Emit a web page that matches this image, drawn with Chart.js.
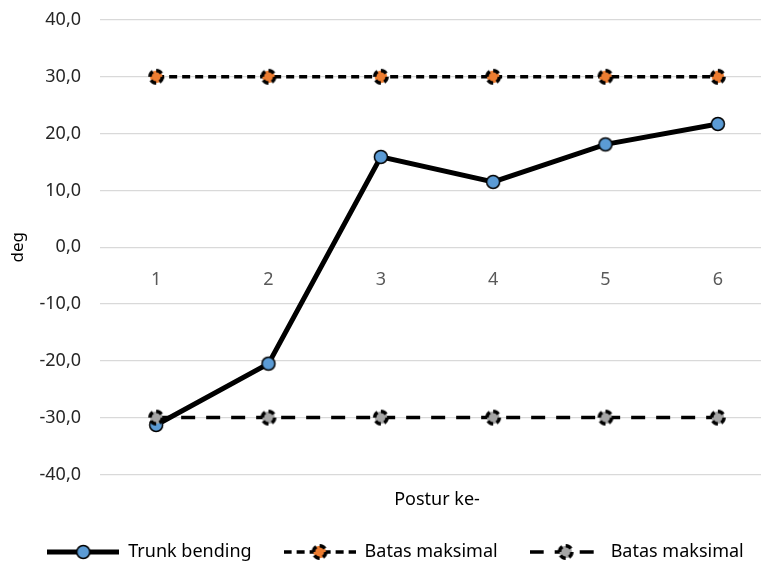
<!DOCTYPE html>
<html lang="id">
<head>
    <meta charset="UTF-8">
    <title>Trunk bending</title>
    <script src="https://cdn.jsdelivr.net/npm/chart.js"></script>
    <style>
        html, body {
            margin: 0;
            padding: 0;
            overflow: hidden;
            background: #fff;
        }
        #wrap {
            width: 783px;
            height: 571px;
        }
    </style>
</head>
<body>
    <div id="wrap"><canvas id="chart"></canvas></div>

    <script>
        // data
        const categories = ['1', '2', '3', '4', '5', '6'];
        const trunkBending = [-31.3, -20.5, 15.9, 11.5, 18.1, 21.7];
        const batasAtas = [30, 30, 30, 30, 30, 30];
        const batasBawah = [-30, -30, -30, -30, -30, -30];
        const seriesNames = ['Trunk bending', 'Batas maksimal', 'Batas maksimal'];

        const FONT = 'Noto Sans';

        // marker as small canvas
        function marker(fill, dashed) {
            const c = document.createElement('canvas');
            c.width = 20; c.height = 20;
            const g = c.getContext('2d');
            g.beginPath();
            g.arc(10, 10, dashed ? 6.2 : 6.5, 0, Math.PI * 2);
            g.fillStyle = fill;
            g.fill();
            g.strokeStyle = '#000';
            g.lineWidth = dashed ? 3.4 : 1.5;
            if (dashed) g.setLineDash([6, 3.5]);
            g.stroke();
            return c;
        }

        // legend sample: line + marker
        function sample(mk, width, dash) {
            const c = document.createElement('canvas');
            c.width = 72; c.height = 20;
            const g = c.getContext('2d');
            g.strokeStyle = '#000';
            g.lineWidth = width;
            if (dash) g.setLineDash(dash);
            g.beginPath();
            g.moveTo(0, 10);
            g.lineTo(72, 10);
            g.stroke();
            g.drawImage(mk, 26, 0);
            return c;
        }

        const mkBlue = marker('#5B9BD5', false);
        const mkOrange = marker('#ED7D31', true);
        const mkGray = marker('#A5A5A5', true);

        const dashTop = [8, 5];
        const dashBottom = [14, 11];

        const samples = [
            sample(mkBlue, 5, null),
            sample(mkOrange, 3.5, dashTop),
            sample(mkGray, 3.5, dashBottom)
        ];

        const fmt = v => v.toFixed(1).replace('.', ',');

        const ctx = document.getElementById('chart').getContext('2d');
        new Chart(ctx, {
            type: 'line',
            data: {
                labels: categories,
                datasets: [{
                    label: seriesNames[0],
                    data: trunkBending,
                    borderColor: '#000',
                    borderWidth: 5,
                    pointStyle: mkBlue,
                    tension: 0,
                    order: 3
                }, {
                    label: seriesNames[1],
                    data: batasAtas,
                    borderColor: '#000',
                    borderWidth: 3.5,
                    borderDash: dashTop,
                    pointStyle: mkOrange,
                    order: 2
                }, {
                    label: seriesNames[2],
                    data: batasBawah,
                    borderColor: '#000',
                    borderWidth: 3.5,
                    borderDash: dashBottom,
                    pointStyle: mkGray,
                    order: 1
                }]
            },
            options: {
                responsive: true,
                maintainAspectRatio: false,
                animation: false,
                events: [],
                layout: {
                    padding: { top: 20, left: 8, right: 0, bottom: 0 }
                },
                plugins: {
                    tooltip: { enabled: false },
                    legend: {
                        position: 'bottom',
                        labels: {
                            usePointStyle: true,
                            pointStyleWidth: 72,
                            padding: 32,
                            color: '#000',
                            font: { family: FONT, size: 18 },
                            generateLabels: chart => chart.data.datasets.map((ds, i) => ({
                                text: ds.label,
                                pointStyle: samples[i],
                                fontColor: '#000',
                                datasetIndex: i,
                                hidden: false
                            }))
                        }
                    }
                },
                scales: {
                    x: {
                        type: 'category',
                        position: { y: 0 },
                        offset: true,
                        grid: { display: false },
                        border: { display: false },
                        ticks: {
                            color: '#595959',
                            padding: 14,
                            font: { family: FONT, size: 18 }
                        }
                    },
                    x2: {
                        type: 'category',
                        position: 'bottom',
                        labels: categories,
                        offset: true,
                        grid: { display: false, drawTicks: false },
                        border: { display: false },
                        ticks: { display: false },
                        title: {
                            display: true,
                            text: 'Postur ke-',
                            color: '#000',
                            font: { family: FONT, size: 18 },
                            padding: { top: 15, bottom: 0 }
                        }
                    },
                    y: {
                        min: -40,
                        max: 40,
                        afterFit: s => {
                            s.width = 92;
                            s.paddingTop = 0;
                            s.paddingBottom = 0;
                        },
                        grid: { color: '#D9D9D9', lineWidth: 1.3, drawTicks: false },
                        border: { display: false },
                        ticks: {
                            stepSize: 10,
                            padding: 19,
                            color: '#262626',
                            font: { family: FONT, size: 18 },
                            callback: v => fmt(v)
                        },
                        title: {
                            display: true,
                            text: 'deg',
                            color: '#000',
                            font: { family: FONT, size: 17 },
                            padding: 0
                        }
                    }
                }
            }
        });
    </script>
</body>
</html>
